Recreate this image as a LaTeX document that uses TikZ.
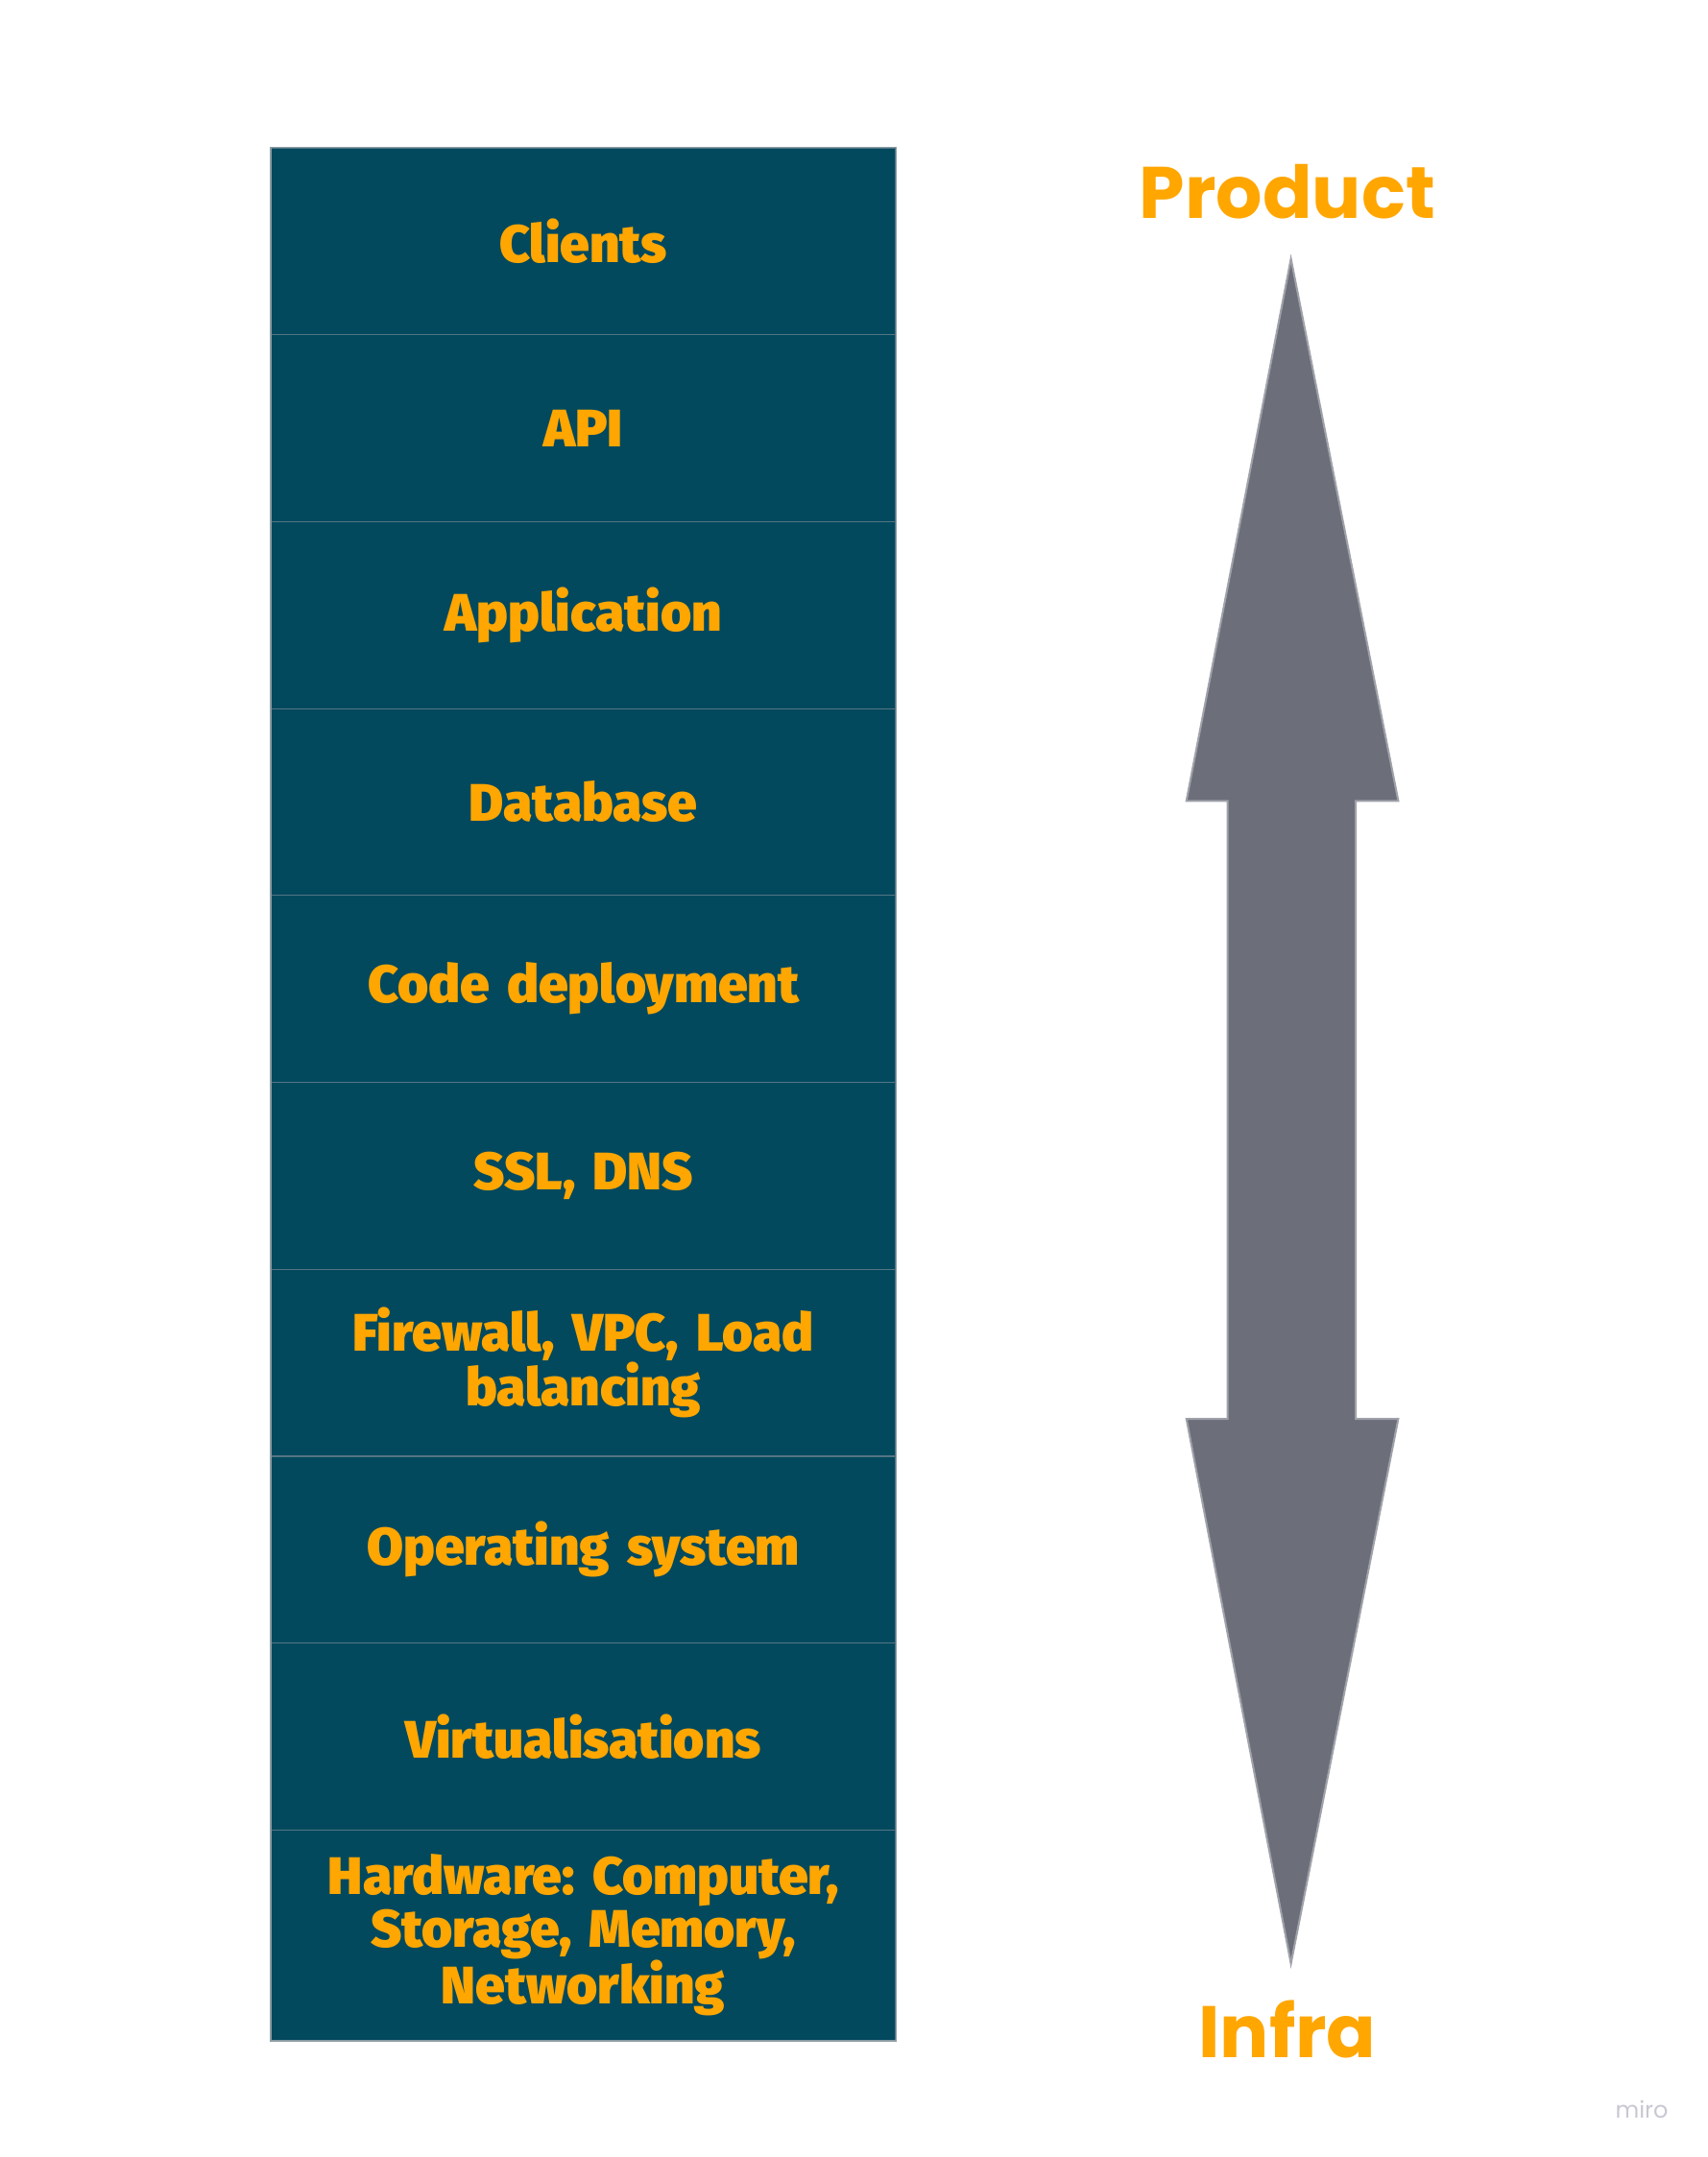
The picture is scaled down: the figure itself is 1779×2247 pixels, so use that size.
\documentclass[tikz,border=0pt]{standalone}
\usepackage{fontspec}
\setmainfont{Fira Sans}
\frenchspacing
\newfontfamily\layerfont{Fira Sans}[UprightFont={* Black}]
\newfontfamily\endfont{Poppins}[UprightFont={* Bold}]
\newfontfamily\markfont{Poppins}
\definecolor{layerteal}{RGB}{2,73,94}
\definecolor{layerline}{RGB}{84,117,132}
\definecolor{layeredge}{RGB}{140,156,164}
\definecolor{accent}{RGB}{255,166,0}
\definecolor{arrowfill}{RGB}{108,111,121}
\definecolor{arrowedge}{RGB}{160,162,170}
\definecolor{markgray}{RGB}{200,200,210}
\begin{document}
\begin{tikzpicture}[x=1pt,y=-1pt,
  layer/.style={rectangle, fill=layerteal, draw=layerline, line width=1.2pt,
    minimum width=650pt, minimum height=#1, inner sep=0pt, anchor=north west,
    text=accent, align=center, text width=620pt,
    font=\layerfont\fontsize{55}{54.5}\selectfont},
  layer/.default=194.7pt,
  endlabel/.style={text=accent, font=\endfont\fontsize{76}{82}\selectfont, inner sep=0pt}]
\useasboundingbox (0,0) rectangle (1779,2247);
\fill[white] (0,0) rectangle (1779,2247);

% stack of layers, top to bottom
\node[layer] (r1)  at (282,153.4)  {Clients};
\node[layer] (r2)  at (282,348.1)  {API};
\node[layer] (r3)  at (282,542.8)  {Application};
\node[layer] (r4)  at (282,737.5)  {Database};
\node[layer] (r5)  at (282,932.2)  {Code deployment};
\node[layer] (r6)  at (282,1126.9) {SSL, DNS};
\node[layer] (r7)  at (282,1321.6) {Firewall, VPC, Load\\balancing};
\node[layer] (r8)  at (282,1516.3) {Operating system};
\node[layer] (r9)  at (282,1711.0) {Virtualisations};
\node[layer=219pt] (r10) at (282,1905.7) {Hardware: Computer,\\Storage, Memory,\\Networking};
\draw[layeredge, line width=1.2pt] (r1.north west) rectangle (r10.south east);

% double-headed arrow between the two ends
\filldraw[fill=arrowfill, draw=arrowedge, line width=2pt, line join=miter]
  (1344.6,269.5) -- (1456.4,834.3) -- (1412,834.3) -- (1412,1478)
  -- (1456.4,1478) -- (1344.6,2045.6) -- (1235.7,1478) -- (1278.7,1478)
  -- (1278.7,834.3) -- (1235.7,834.3) -- cycle;

\node[endlabel] (product) at (1341,200) {Product};
\node[endlabel] (infra) at (1341,2114) {Infra};

\node[text=markgray, font=\markfont\fontsize{24}{26}\selectfont, inner sep=0pt] (mark) at (1710,2197) {miro};
\end{tikzpicture}
\end{document}
